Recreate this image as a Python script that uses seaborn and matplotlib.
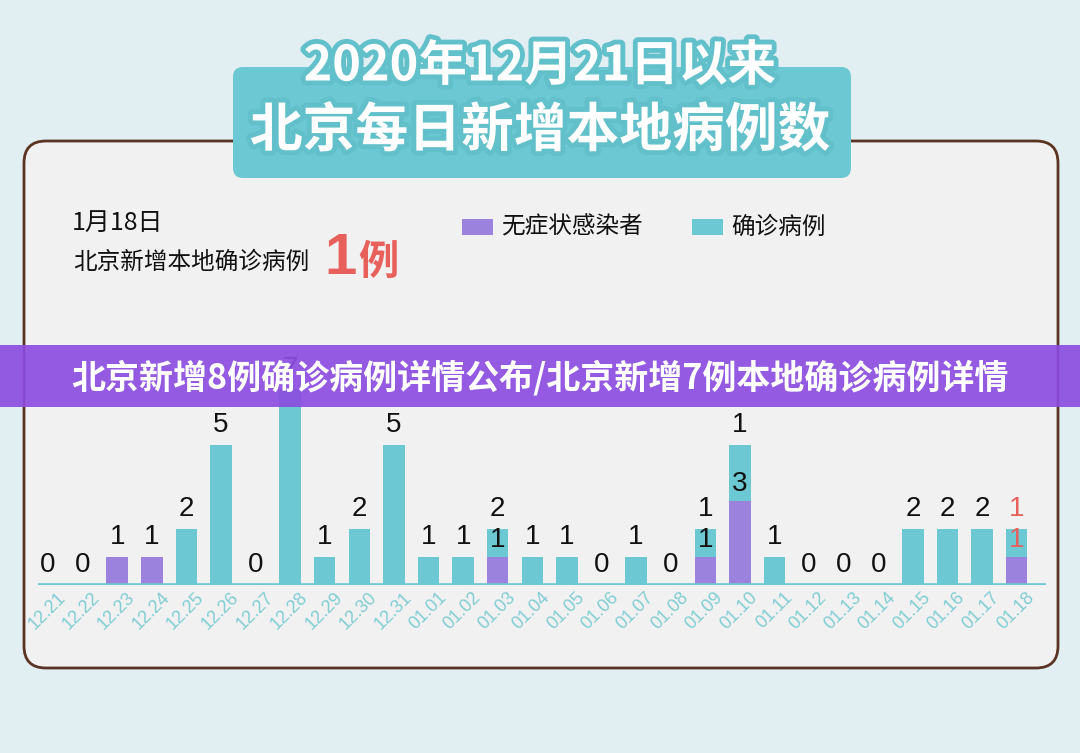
import matplotlib
matplotlib.use("Agg")
import matplotlib.pyplot as plt
import matplotlib.patheffects as pe
import matplotlib.transforms as mtransforms
from matplotlib.patches import FancyBboxPatch, Rectangle
import pandas as pd
import seaborn as sns

# data
dates = ["12.21", "12.22", "12.23", "12.24", "12.25", "12.26", "12.27", "12.28",
         "12.29", "12.30", "12.31", "01.01", "01.02", "01.03", "01.04", "01.05",
         "01.06", "01.07", "01.08", "01.09", "01.10", "01.11", "01.12", "01.13",
         "01.14", "01.15", "01.16", "01.17", "01.18"]
confirmed = [0, 0, 0, 0, 2, 5, 0, 7, 1, 2, 5, 1, 1, 1, 1, 1, 0, 1, 0, 1, 2, 1, 0, 0, 0, 2, 2, 2, 1]
asymptomatic = [0, 0, 1, 1, 0, 0, 0, 0, 0, 0, 0, 0, 0, 1, 0, 0, 0, 0, 0, 1, 3, 0, 0, 0, 0, 0, 0, 0, 1]
top_labels = ["0", "0", "1", "1", "2", "5", "0", "7", "1", "2", "5", "1", "1", "2", "1", "1",
              "0", "1", "0", "1", "1", "1", "0", "0", "0", "2", "2", "2", "1"]
# second number drawn inside the teal part of the mixed bars
inner_labels = {"01.03": "1", "01.09": "1", "01.10": "3", "01.18": "1"}

TEAL = "#6cc8d2"
PURPLE = "#9b82dc"
BANNER = "#8c4de0"
RED = "#e8605c"
BG = "#e1eef2"
PANEL = "#f1f1f1"
BROWN = "#5b3322"
INK = "#111111"

sns.set_theme(style="white")
plt.rcParams["font.family"] = ["Noto Sans CJK SC", "DejaVu Sans"]
NUM_FONT = ["Liberation Sans", "DejaVu Sans"]

df = pd.DataFrame({"date": dates, "confirmed": confirmed, "asymptomatic": asymptomatic})
df["total"] = df["confirmed"] + df["asymptomatic"]

W, H = 1080, 753
fig = plt.figure(figsize=(W / 100, H / 100), dpi=100, facecolor=BG)

# background layer in pixel coordinates
bg = fig.add_axes([0, 0, 1, 1], zorder=0)
bg.set_xlim(0, W)
bg.set_ylim(H, 0)
bg.axis("off")
bg.add_patch(FancyBboxPatch((24, 141), 1034, 527, boxstyle="round,pad=0,rounding_size=22",
                            facecolor=PANEL, edgecolor=BROWN, linewidth=2))
bg.add_patch(FancyBboxPatch((233, 67), 618, 111, boxstyle="round,pad=0,rounding_size=10",
                            facecolor=TEAL, edgecolor="none"))
title_fx = [pe.withSimplePatchShadow(offset=(1.5, -2.5), shadow_rgbFace="#3f9ea8", alpha=0.6),
            pe.withStroke(linewidth=7, foreground="#62c0cb")]
bg.text(540, 66, "2020年12月21日以来", ha="center", va="center", fontsize=35,
        color="white", fontweight="bold", path_effects=title_fx)
bg.text(540, 131, "北京每日新增本地病例数", ha="center", va="center", fontsize=38,
        color="white", fontweight="bold", path_effects=title_fx)

bg.text(72, 223, "1月18日", ha="left", va="center", fontsize=18, color=INK)
bg.text(73, 262, "北京新增本地确诊病例", ha="left", va="center", fontsize=17, color=INK)
bg.text(324, 274, "1", ha="left", va="baseline", fontsize=42, color=RED,
        family=NUM_FONT, fontweight="bold")
bg.text(358, 274, "例", ha="left", va="baseline", fontsize=29, color=RED, fontweight="bold")

bg.add_patch(Rectangle((462, 219), 31, 16, facecolor=PURPLE, edgecolor="none"))
bg.text(501, 227, "无症状感染者", ha="left", va="center", fontsize=17, color=INK)
bg.add_patch(Rectangle((692, 219), 31, 16, facecolor=TEAL, edgecolor="none"))
bg.text(731, 227, "确诊病例", ha="left", va="center", fontsize=17, color=INK)

# bar chart
unit = 28
ymax = 8.5
ax = fig.add_axes([38 / W, (H - 585) / H, (1046 - 38) / W, ymax * unit / H], zorder=1)
ax.patch.set_alpha(0)
sns.barplot(data=df, x="date", y="total", order=dates, color=TEAL, width=0.62,
            saturation=1, linewidth=0, ax=ax)
sns.barplot(data=df, x="date", y="asymptomatic", order=dates, color=PURPLE, width=0.62,
            saturation=1, linewidth=0, ax=ax)
ax.set_xlim(-0.29, 28.85)
ax.set_ylim(0, ymax)
ax.axhline(0, color=TEAL, linewidth=2.6, zorder=3)
for s in ax.spines.values():
    s.set_visible(False)
ax.set_yticks([])
ax.set_xlabel("")
ax.set_ylabel("")

for i, d in enumerate(dates):
    col = RED if d == "01.18" else INK
    ax.text(i, df["total"][i] + 0.25, top_labels[i], ha="center", va="bottom",
            fontsize=20, color=col, family=NUM_FONT, clip_on=False, zorder=4)
    if d in inner_labels:
        ax.text(i, df["asymptomatic"][i] + 0.15, inner_labels[d], ha="center", va="bottom",
                fontsize=20, color=col, family=NUM_FONT, zorder=4)

ax.set_xticks(range(len(dates)))
ax.set_xticklabels(dates, rotation=45, ha="right", va="top", rotation_mode="anchor",
                   fontsize=13, color="#80cdd4", family=NUM_FONT)
ax.tick_params(axis="x", length=0, pad=3)
# tick labels end a little right of each bar centre
shift = mtransforms.ScaledTranslation(0.09, 0, fig.dpi_scale_trans)
for lbl in ax.get_xticklabels():
    lbl.set_transform(lbl.get_transform() + shift)

# banner laid over everything
top = fig.add_axes([0, 0, 1, 1], zorder=2)
top.set_xlim(0, W)
top.set_ylim(H, 0)
top.axis("off")
top.patch.set_alpha(0)
top.add_patch(Rectangle((0, 345), W, 62, facecolor=BANNER, edgecolor="none", alpha=0.92))
top.text(540, 378, "北京新增8例确诊病例详情公布/北京新增7例本地确诊病例详情",
         ha="center", va="center", fontsize=24.5, color="white", fontweight="bold")

fig.savefig("out.png", dpi=100, facecolor=BG)
